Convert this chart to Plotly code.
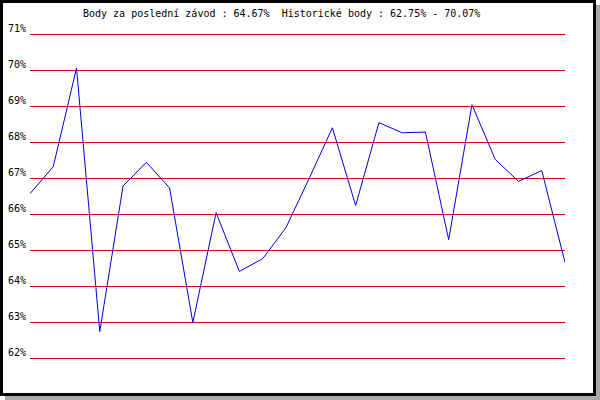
import plotly.graph_objects as go

# ---- data ----
race_index = list(range(24))
points_pct = [66.58, 67.33, 70.07, 62.75, 66.79, 67.45, 66.74, 63.00, 66.05, 64.42,
              64.77, 65.63, 67.00, 68.41, 66.25, 68.55, 68.27, 68.29, 65.30, 69.05,
              67.53, 66.92, 67.22, 64.67]
y_ticks = [62, 63, 64, 65, 66, 67, 68, 69, 70, 71]
y_tick_labels = [f"{v}%" for v in y_ticks]
title_text = "Body za poslední závod : 64.67%  Historické body : 62.75% - 70.07%"

FONT = "DejaVu Sans Mono"
W, H = 600, 400
L, R, T, B = 30, 35, 34, 41
PW, PH = W - L - R, H - T - B
Y_MIN, Y_MAX = y_ticks[0], y_ticks[-1]
half_px = 0.5 * (Y_MAX - Y_MIN) / (PH - 1)  # pad so 1px lines sit on pixel centres


def px(xp):
    return (xp - L) / PW


def py(yp):
    return (H - B - yp) / PH


fig = go.Figure()
fig.add_trace(go.Scatter(
    x=race_index, y=points_pct, mode="lines",
    line=dict(color="#0000d8", width=1),
    hoverinfo="skip", showlegend=False, cliponaxis=False,
))

annotations = []
for v, lab in zip(y_ticks, y_tick_labels):
    annotations.append(dict(
        xref="paper", yref="y", x=0, y=v, text=lab, showarrow=False,
        xanchor="right", yanchor="bottom", xshift=-2, yshift=-1,
        font=dict(family=FONT, size=10, color="#000000"),
    ))
annotations.append(dict(
    xref="paper", yref="paper", x=0, y=1, text=title_text, showarrow=False,
    xanchor="left", yanchor="middle", xshift=51, yshift=21,
    font=dict(family=FONT, size=10, color="#000000"),
))

shapes = [
    dict(type="rect", xref="paper", yref="paper",
         x0=px(596), x1=px(600), y0=py(5), y1=py(400),
         fillcolor="#aaaaaa", line=dict(width=0), layer="below"),
    dict(type="rect", xref="paper", yref="paper",
         x0=px(5), x1=px(600), y0=py(396), y1=py(400),
         fillcolor="#aaaaaa", line=dict(width=0), layer="below"),
    dict(type="rect", xref="paper", yref="paper",
         x0=px(1.5), x1=px(594.5), y0=py(1.5), y1=py(394.5),
         fillcolor="rgba(0,0,0,0)", line=dict(color="#000000", width=3), layer="above"),
]
# horizontal gridlines at every tick value
for v in y_ticks:
    shapes.append(dict(type="line", xref="paper", yref="y", x0=0, x1=1, y0=v, y1=v,
                       line=dict(color="#e00000", width=1), layer="below"))

fig.update_layout(
    width=W, height=H,
    margin=dict(l=L, r=R, t=T, b=B),
    paper_bgcolor="#ffffff", plot_bgcolor="#ffffff",
    xaxis=dict(range=[0, 23], showgrid=False, zeroline=False, showticklabels=False,
               ticks="", showline=False, fixedrange=True),
    yaxis=dict(range=[Y_MIN - half_px, Y_MAX + half_px], showgrid=False,
               zeroline=False, showticklabels=False, ticks="",
               showline=False, fixedrange=True),
    annotations=annotations,
    shapes=shapes,
)

fig.write_html("out.html", config={"displayModeBar": False},
               post_script="document.body.style.margin='0';")
